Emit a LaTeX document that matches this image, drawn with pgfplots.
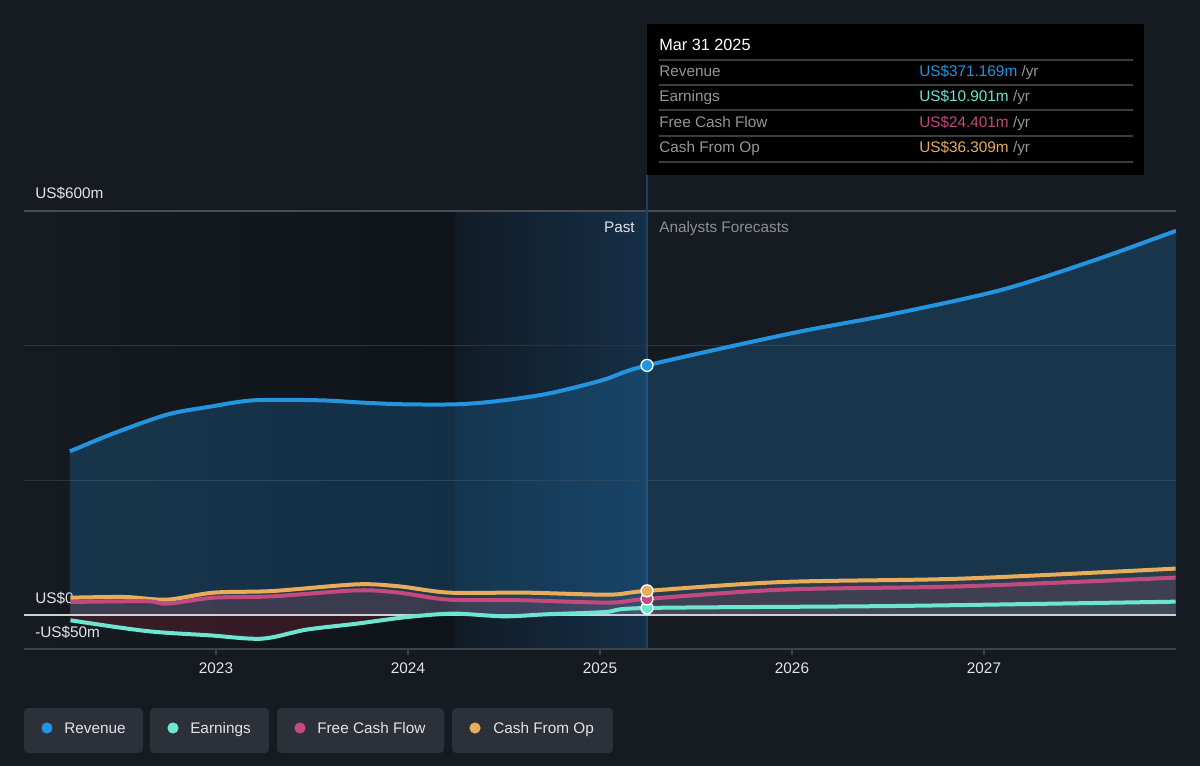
\documentclass[border=0pt]{standalone}
\usepackage{pgfplots}
\pgfplotsset{compat=1.18}
\usepackage{fontspec}
\setmainfont{Liberation Sans}
\definecolor{bg}{RGB}{22,27,34}
\definecolor{pastdark}{RGB}{15,19,26}
\definecolor{bandL}{RGB}{17,27,38}
\definecolor{bandR}{RGB}{21,47,72}
\definecolor{gridc}{RGB}{44,50,58}
\definecolor{grid600}{RGB}{72,77,85}
\definecolor{axisc}{RGB}{60,66,75}
\definecolor{vlinec}{RGB}{30,66,100}
\definecolor{revc}{RGB}{35,148,223}
\definecolor{earnc}{RGB}{108,229,209}
\definecolor{fcfc}{RGB}{196,73,127}
\definecolor{cfoc}{RGB}{232,172,90}
\definecolor{negc}{RGB}{224,48,74}
\definecolor{txt}{RGB}{226,228,230}
\definecolor{muted}{RGB}{140,144,150}
\definecolor{tipgray}{RGB}{150,150,150}
\definecolor{sepc}{RGB}{60,60,60}
\definecolor{legbox}{RGB}{43,48,57}
\newcommand{\fs}{\fontsize{11.5}{13.5}\selectfont}
\begin{document}
\begin{tikzpicture}
\begin{scope}[x=0.75pt,y=-0.75pt]
\fill[bg] (0,0) rectangle (1200,766);
\shade[left color=bg, right color=pastdark] (24,211) rectangle (455,649);
\shade[left color=bandL, right color=bandR] (455,211) rectangle (647,649);
\draw[gridc, line width=0.75pt] (24,346)--(1176,346) (24,481)--(1176,481);
\draw[grid600, line width=1pt] (24,211)--(1176,211);
\draw[vlinec, line width=1.2pt] (647,175)--(647,649);
\node[anchor=base west, text=txt, inner sep=0pt, font=\fs] at (35,199) {US\$600m};
\node[anchor=base west, text=txt, inner sep=0pt, font=\fs] at (35,603) {US\$0};
\node[anchor=base west, text=txt, inner sep=0pt, font=\fs] at (35,637) {-US\$50m};
\node[anchor=base east, text=txt, inner sep=0pt, font=\fs] at (635,233) {Past};
\node[anchor=base west, text=muted, inner sep=0pt, font=\fs] at (659,233) {Analysts Forecasts};
\end{scope}
\begin{axis}[
  at={(18pt,-486.75pt)}, anchor=south west,
  width=864pt, height=328.3pt, scale only axis,
  xmin=2022, xmax=2028, ymin=-50, ymax=600,
  axis y line=none, axis x line*=bottom,
  x axis line style={-, draw=axisc, line width=1.5pt},
  xtick={2023,2024,2025,2026,2027},
  xticklabels={2023,2024,2025,2026,2027},
  tick align=outside, major tick length=4.5pt,
  tick style={draw=axisc, line width=1.2pt},
  xticklabel style={font=\fs, text=txt, yshift=-2.5pt},
  ytick=\empty,
]
% fills
\addplot[draw=none, fill=revc, fill opacity=0.22, smooth, tension=0.5] coordinates {
(2022.239,243.5)(2022.463,269.8)(2022.744,298)(2022.960,309.4)(2023.197,319.3)
(2023.543,319.3)(2023.759,315.9)(2023.974,313.4)(2024.255,313.4)(2024.471,318.3)
(2024.729,329.2)(2025.010,349)(2025.245,371.169)(2026.0,419)(2026.5,446)
(2027.083,482.7)(2027.552,525)(2028.0,571)} \closedcycle;
\addplot[draw=none, fill=cfoc, fill opacity=0.08, smooth, tension=0.5] coordinates {
(2022.242,26.2)(2022.526,27.2)(2022.746,23.3)(2022.988,33.7)(2023.294,36.1)
(2023.733,46.0)(2023.952,43.1)(2024.215,33.7)(2024.609,33.7)(2025.047,30.7)
(2025.245,36.309)(2025.953,49.5)(2026.882,54.5)(2027.998,69.4)} \closedcycle;
\addplot[draw=none, fill=fcfc, fill opacity=0.14, smooth, tension=0.5] coordinates {
(2022.242,19.8)(2022.637,21)(2022.746,17.3)(2022.988,26.2)(2023.294,28.2)
(2023.733,37.1)(2023.952,33.7)(2024.215,23.3)(2024.609,22.3)(2025.047,18.9)
(2025.245,24.401)(2025.953,38.2)(2026.882,43.1)(2027.998,56)} \closedcycle;
\addplot[draw=none, fill=earnc, fill opacity=0.07, smooth, tension=0.5, y filter/.expression={max(y,0)}] coordinates {
(2022.242,-7.4)(2022.637,-23.3)(2022.966,-29.7)(2023.240,-34.7)(2023.470,-21.3)
(2023.733,-12.4)(2023.996,-2.5)(2024.237,2.5)(2024.5,-1.5)(2024.719,1.5)
(2025.026,4.9)(2025.245,10.901)(2026.547,13.9)(2027.998,20.3)} \closedcycle;
\addplot[draw=none, fill=negc, fill opacity=0.17, smooth, tension=0.5, y filter/.expression={min(y,0)}] coordinates {
(2022.242,-7.4)(2022.637,-23.3)(2022.966,-29.7)(2023.240,-34.7)(2023.470,-21.3)
(2023.733,-12.4)(2023.996,-2.5)(2024.237,2.5)(2024.5,-1.5)(2024.719,1.5)
(2025.026,4.9)(2025.245,10.901)(2026.547,13.9)(2027.998,20.3)} \closedcycle;
% zero line
\draw[color=white!82!black, line width=1.3pt] (axis cs:2022,0) -- (axis cs:2028,0);
% lines
\addplot[revc, line width=3pt, smooth, tension=0.5] coordinates {
(2022.239,243.5)(2022.463,269.8)(2022.744,298)(2022.960,309.4)(2023.197,319.3)
(2023.543,319.3)(2023.759,315.9)(2023.974,313.4)(2024.255,313.4)(2024.471,318.3)
(2024.729,329.2)(2025.010,349)(2025.245,371.169)(2026.0,419)(2026.5,446)
(2027.083,482.7)(2027.552,525)(2028.0,571)};
\addplot[cfoc, line width=3pt, smooth, tension=0.5] coordinates {
(2022.242,26.2)(2022.526,27.2)(2022.746,23.3)(2022.988,33.7)(2023.294,36.1)
(2023.733,46.0)(2023.952,43.1)(2024.215,33.7)(2024.609,33.7)(2025.047,30.7)
(2025.245,36.309)(2025.953,49.5)(2026.882,54.5)(2027.998,69.4)};
\addplot[fcfc, line width=3pt, smooth, tension=0.5] coordinates {
(2022.242,19.8)(2022.637,21)(2022.746,17.3)(2022.988,26.2)(2023.294,28.2)
(2023.733,37.1)(2023.952,33.7)(2024.215,23.3)(2024.609,22.3)(2025.047,18.9)
(2025.245,24.401)(2025.953,38.2)(2026.882,43.1)(2027.998,56)};
\addplot[earnc, line width=3pt, smooth, tension=0.5] coordinates {
(2022.242,-7.4)(2022.637,-23.3)(2022.966,-29.7)(2023.240,-34.7)(2023.470,-21.3)
(2023.733,-12.4)(2023.996,-2.5)(2024.237,2.5)(2024.5,-1.5)(2024.719,1.5)
(2025.026,4.9)(2025.245,10.901)(2026.547,13.9)(2027.998,20.3)};
% markers
\addplot[only marks, mark=*, mark size=4.5pt, mark options={fill=earnc, draw=white, line width=1pt}] coordinates {(2025.245,10.901)};
\addplot[only marks, mark=*, mark size=4.5pt, mark options={fill=fcfc, draw=white, line width=1pt}] coordinates {(2025.245,24.401)};
\addplot[only marks, mark=*, mark size=4.5pt, mark options={fill=cfoc, draw=white, line width=1pt}] coordinates {(2025.245,36.309)};
\addplot[only marks, mark=*, mark size=4.5pt, mark options={fill=revc, draw=white, line width=1pt}] coordinates {(2025.245,371.169)};
\end{axis}
\begin{scope}[x=0.75pt,y=-0.75pt]
% tooltip
\fill[black] (647,24) rectangle (1144,175);
\node[anchor=base west, text=white, inner sep=0pt, font=\fontsize{12.2}{14}\selectfont] at (659,51) {Mar 31 2025};
\draw[sepc, line width=0.9pt] (659,60)--(1133,60) (659,85)--(1133,85) (659,110)--(1133,110) (659,136)--(1133,136) (659,162)--(1133,162);
\node[anchor=base west, text=tipgray, inner sep=0pt, font=\fs] at (659,77) {Revenue};
\node[anchor=base west, text=tipgray, inner sep=0pt, font=\fs] at (659,102) {Earnings};
\node[anchor=base west, text=tipgray, inner sep=0pt, font=\fs] at (659,128) {Free Cash Flow};
\node[anchor=base west, text=tipgray, inner sep=0pt, font=\fs] at (659,153) {Cash From Op};
\node[anchor=base west, inner sep=0pt, font=\fs] at (919,77) {\textcolor{revc}{US\$371.169m} \textcolor{tipgray}{/yr}};
\node[anchor=base west, inner sep=0pt, font=\fs] at (919,102) {\textcolor{earnc}{US\$10.901m} \textcolor{tipgray}{/yr}};
\node[anchor=base west, inner sep=0pt, font=\fs] at (919,128) {\textcolor{fcfc}{US\$24.401m} \textcolor{tipgray}{/yr}};
\node[anchor=base west, inner sep=0pt, font=\fs] at (919,153) {\textcolor{cfoc}{US\$36.309m} \textcolor{tipgray}{/yr}};
% legend
\fill[legbox, rounded corners=3pt] (24,708) rectangle (143,753);
\fill[legbox, rounded corners=3pt] (150,708) rectangle (269,753);
\fill[legbox, rounded corners=3pt] (277,708) rectangle (444,753);
\fill[legbox, rounded corners=3pt] (452,708) rectangle (613,753);
\fill[revc] (47,728) circle (4.2pt);
\fill[earnc] (173,728) circle (4.2pt);
\fill[fcfc] (300,728) circle (4.2pt);
\fill[cfoc] (475,728) circle (4.2pt);
\node[anchor=base west, text=txt, inner sep=0pt, font=\fs] at (64,733) {Revenue};
\node[anchor=base west, text=txt, inner sep=0pt, font=\fs] at (190,733) {Earnings};
\node[anchor=base west, text=txt, inner sep=0pt, font=\fs] at (317,733) {Free Cash Flow};
\node[anchor=base west, text=txt, inner sep=0pt, font=\fs] at (493,733) {Cash From Op};
\end{scope}
\end{tikzpicture}
\end{document}
